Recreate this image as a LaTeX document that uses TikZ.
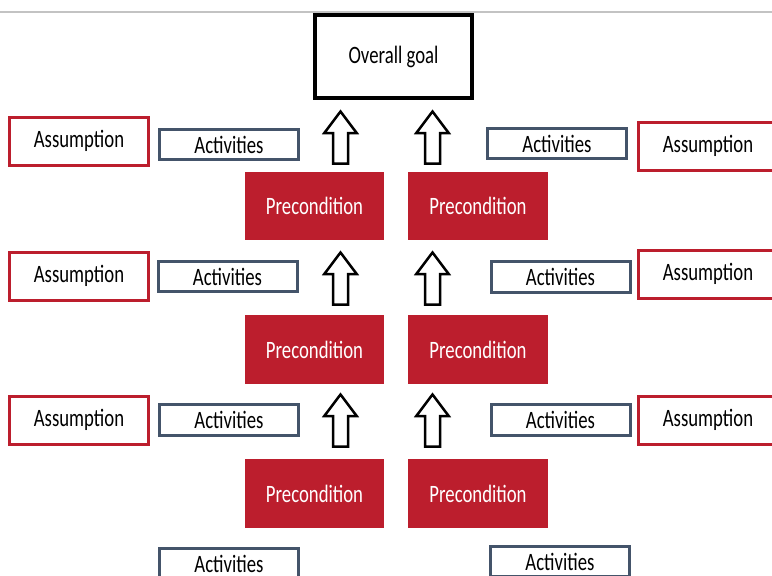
\documentclass[tikz,border=0pt]{standalone}
\usepackage{fontspec}
\setmainfont{Carlito}
\usepackage{graphicx}
\definecolor{prered}{RGB}{188,30,45}
\definecolor{actblue}{RGB}{68,84,106}
\definecolor{rulegray}{RGB}{195,195,195}
\newcommand{\sq}[1]{\scalebox{0.75}[1]{#1}}
\tikzset{
  box/.style={rectangle, inner sep=0pt, font=\fontsize{25}{29}\selectfont},
  goalbox/.style={box, draw=black, line width=3.8pt, fill=white},
  prebox/.style={box, fill=prered, text=white, minimum width=139.5pt, minimum height=68.5pt},
  actbox/.style={box, draw=actblue, line width=3pt, minimum width=139pt, minimum height=30.5pt},
  assbox/.style={box, draw=prered, line width=3pt, minimum width=139pt, minimum height=48pt},
  blockarrow/.style={draw=black, line width=2.5pt, fill=white, line join=miter},
  uparrow/.pic={\path[blockarrow] (0,1.5) -- (16.2,23) -- (7.5,23) -- (7.5,53.5) -- (-7.5,53.5) -- (-7.5,23) -- (-16.2,23) -- cycle;}
}
\begin{document}
\begin{tikzpicture}[x=1pt,y=-1pt]
\useasboundingbox (0,0) rectangle (772,576);
\clip (0,0) rectangle (772,576);
\fill[white] (0,0) rectangle (772,576);
\draw[rulegray, line width=1.2pt] (0,12) coordinate (ruleL) -- (772,12) coordinate (ruleR);

\node[goalbox, minimum width=157.5pt, minimum height=83.5pt] (goal) at (393.5,56.5) {\sq{Overall goal}};

% preconditions
\node[prebox] (pl1) at (314.5,206) {\sq{Precondition}};
\node[prebox] (pr1) at (478,206) {\sq{Precondition}};
\node[prebox] (pl2) at (314.5,349.5) {\sq{Precondition}};
\node[prebox] (pr2) at (478,349.5) {\sq{Precondition}};
\node[prebox] (pl3) at (314.5,493.5) {\sq{Precondition}};
\node[prebox] (pr3) at (478,493.5) {\sq{Precondition}};

% arrows
\pic at (340.5,110) {uparrow};
\pic at (432.5,110) {uparrow};
\pic at (340.5,251) {uparrow};
\pic at (432.5,251) {uparrow};
\pic at (340.5,393) {uparrow};
\pic at (432.5,393) {uparrow};

% activities
\node[actbox] (al1) at (229,144.5) {\sq{Activities}};
\node[actbox] (al2) at (227.5,276.5) {\sq{Activities}};
\node[actbox] (al3) at (229,420) {\sq{Activities}};
\node[actbox] (al4) at (229,563.5) {\sq{Activities}};
\node[actbox] (ar1) at (557,143.5) {\sq{Activities}};
\node[actbox] (ar2) at (560.5,277) {\sq{Activities}};
\node[actbox] (ar3) at (560.5,420) {\sq{Activities}};
\node[actbox] (ar4) at (560,561.5) {\sq{Activities}};

% assumptions
\node[assbox] (sl1) at (79,141) {\sq{Assumption}};
\node[assbox] (sl2) at (79,276) {\sq{Assumption}};
\node[assbox] (sl3) at (79,420) {\sq{Assumption}};
\node[assbox] (sr1) at (708,146) {\sq{Assumption}};
\node[assbox] (sr2) at (708,274) {\sq{Assumption}};
\node[assbox] (sr3) at (708,420) {\sq{Assumption}};
\end{tikzpicture}
\end{document}
